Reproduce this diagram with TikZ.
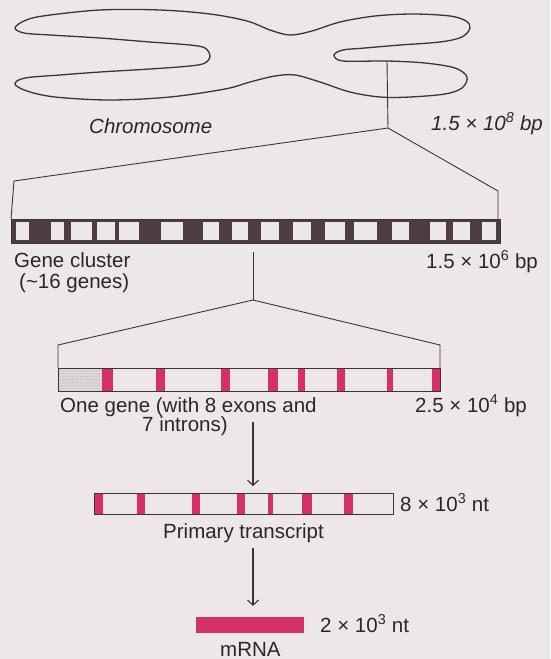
\documentclass[tikz,border=0pt]{standalone}
\usepackage{fontspec}
\setmainfont{Liberation Sans}
\usetikzlibrary{arrows.meta,patterns}
\definecolor{paper}{HTML}{EDE7E8}
\definecolor{ink}{HTML}{3B3436}
\definecolor{textink}{HTML}{2C2628}
\definecolor{band}{HTML}{4D3C43}
\definecolor{exon}{HTML}{D5306A}
\definecolor{stip}{HTML}{DED7D9}
\begin{document}
\begin{tikzpicture}[x=1pt,y=-1pt,
  chromline/.style={draw=ink,line width=1.3pt,line join=round},
  projline/.style={draw=ink,line width=0.9pt},
  barbox/.style={rectangle,draw=ink,line width=1pt,inner sep=0pt,outer sep=0pt},
  exonfill/.style={fill=exon},
  arr/.style={draw=ink,line width=1.1pt,-{Straight Barb[length=5pt,width=11pt,line width=1.1pt]}},
  lbl/.style={anchor=base west,inner sep=0pt,text=textink,font=\fontsize{20.5}{24}\selectfont},
  lbli/.style={lbl,font=\fontsize{20.5}{24}\selectfont\itshape}]
\useasboundingbox (0,0) rectangle (550,659);
\fill[paper] (0,0) rectangle (550,659);

% chromosome outline
\draw[chromline] plot[smooth cycle,tension=0.55] coordinates {
  (15,28) (24,21) (43,16) (100,10) (160,10) (210,14) (247,21) (270,30)
  (290,35) (312,31) (340,22) (375,16) (413,14) (450,16) (466,21) (470,28)
  (462,37) (440,42) (400,45) (365,48) (343,50) (334,55) (343,61) (387,61)
  (425,63) (455,68) (467,77) (462,88) (445,94) (410,97) (380,97) (350,92)
  (320,82) (295,75) (275,76) (250,82) (225,89) (170,97) (110,100) (55,97)
  (27,91) (15,84) (25,78) (60,75) (100,72) (150,69) (190,66) (205,63)
  (210,56) (205,48) (190,45) (150,42) (100,38) (50,35) (24,33)};

% key points of the zoom lines
\coordinate (tick) at (387,61);
\coordinate (apexA) at (388,128);
\coordinate (bendAL) at (14,181);
\coordinate (bendAR) at (498,191);
\coordinate (tickB) at (253,252);
\coordinate (apexB) at (253,300);
\coordinate (bendBL) at (58,345);
\coordinate (bendBR) at (440,345);

% gene cluster bar
\node[barbox,fill=band,minimum width=489pt,minimum height=24pt] (cluster) at (255.5,231) {};
\foreach \a/\b in {16/29,51/64,71/92,97/115,119/139,161/183,203/219,232/248,
                   261/279,293/311,325/345,354/377,392/409,430/446,453/470,482/496}
  \fill[paper] (\a,222) rectangle (\b,240);

% one gene bar
\node[barbox,minimum width=382pt,minimum height=23pt] (gene) at (249,379.5) {};
\fill[stip] (58.5,368.5) rectangle (102,390.5);
\fill[pattern=dots,pattern color=ink!55] (58.5,368.5) rectangle (102,390.5);
\foreach \a/\b in {102/113,156/165,221/230,268/278,298/305,337/345,387/393,432/439.5}
  \fill[exonfill] (\a,368.5) rectangle (\b,390.5);
\draw[draw=ink,line width=1pt] (gene.north west) rectangle (gene.south east);

% primary transcript bar
\node[barbox,minimum width=299pt,minimum height=21pt] (trans) at (243.5,503.5) {};
\foreach \a/\b in {94.5/103,137/145,192/200,237/245,268/273,302/312,344/353}
  \fill[exonfill] (\a,493.5) rectangle (\b,513.5);
\draw[draw=ink,line width=1pt] (trans.north west) rectangle (trans.south east);

% mRNA bar
\node[rectangle,fill=exon,inner sep=0pt,minimum width=108pt,minimum height=16pt] (mrna) at (250,625) {};

% zoom lines
\draw[projline] (tick) -- (apexA);
\draw[projline] (apexA) -- (bendAL) -- (cluster.north west);
\draw[projline] (apexA) -- (bendAR) -- (cluster.north east -| bendAR);
\draw[projline] (tickB) -- (apexB);
\draw[projline] (apexB) -- (bendBL) -- (gene.north west);
\draw[projline] (apexB) -- (bendBR) -- (gene.north east);

% labels
\node[lbli] (chromlbl) at (89,133) {Chromosome};
\node[lbli] (chromsize) at (431,130) {1.5 × 10\textsuperscript{8} bp};
\node[lbl] (clusterlbl) at (14,267) {Gene cluster};
\node[lbl] (clusterlbl2) at (19,288) {(\textasciitilde16 genes)};
\node[lbl] (clustersize) at (426,268) {1.5 × 10\textsuperscript{6} bp};
\node[lbl] (genelbl) at (60,412) {One gene (with 8 exons and};
\node[lbl] (genelbl2) at (142,431) {7 introns)};
\node[lbl] (genesize) at (415,412) {2.5 × 10\textsuperscript{4} bp};
\node[lbl] (transsize) at (400,511) {8 × 10\textsuperscript{3} nt};
\node[lbl] (translbl) at (163,538) {Primary transcript};
\node[lbl] (mrnasize) at (320,632) {2 × 10\textsuperscript{3} nt};
\node[lbl] (mrnalbl) at (220,656) {mRNA};

% processing arrows
\coordinate (arrA) at (253,422);
\coordinate (arrB) at (253,548);
\draw[arr,shorten >=7pt] (arrA) -- (arrA |- trans.north);
\draw[arr,shorten >=11pt] (arrB) -- (arrB |- mrna.north);
\end{tikzpicture}
\end{document}
